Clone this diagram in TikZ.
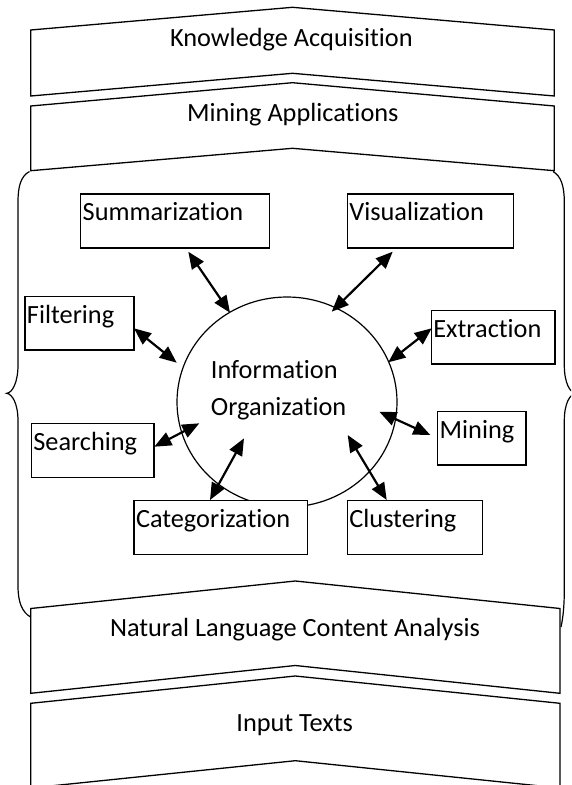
\documentclass[tikz,border=0pt]{standalone}
\usepackage{fontspec}
\setmainfont[Ligatures={NoCommon,NoRequired,NoContextual}]{Carlito}
\usetikzlibrary{arrows.meta,calc,shapes.geometric}

% a task box with its caption set in the upper left corner
\newcommand\taskbox[6]{%
  \node[box, minimum width=#4, minimum height=#5] (#1) at (#2,#3) {};
  \node[lbl] (#1-t) at ($(#1.north west)+(2.5,27.5)$) {#6};
}

\begin{document}
\begin{tikzpicture}[x=1pt,y=-1pt,
  band/.style={draw, fill=white, line width=1.3pt, line join=miter},
  box/.style={draw, fill=white, line width=1.3pt, rectangle, inner sep=0pt, anchor=north west},
  lbl/.style={anchor=base west, inner sep=0pt, font=\fontsize{26.3}{32}\selectfont},
  caption/.style={anchor=base, inner sep=0pt, font=\fontsize{26.3}{32}\selectfont},
  brace/.style={draw, line width=1.2pt},
  link/.style={line width=2.2pt,
    {Triangle[length=17pt,width=14pt]}-{Triangle[length=17pt,width=14pt]}},
]
\useasboundingbox (0,0) rectangle (571,785);
\clip (0,0) rectangle (571,785);

% curly braces around the organization layer
\path[brace] (29.5,171.5) .. controls (21,176) and (18,186) .. (18,202)
  -- (18,365) .. controls (18,383) and (12,393) .. (6.7,393.3)
  .. controls (12,394) and (18,403) .. (18,421)
  -- (18,586) .. controls (18,602) and (22,612) .. (30.5,617);
\path[brace] (553,171.5) .. controls (561,176) and (564.3,186) .. (564.3,202)
  -- (564.3,365) .. controls (564.3,383) and (570,393) .. (576,393.3)
  .. controls (570,394) and (564.3,403) .. (564.3,421)
  -- (564.3,590) .. controls (564.3,606) and (563,618) .. (561,627);

% layered bands
\path[band] (30.7,30) -- (292.5,7.3) -- (554.3,30) -- (554.3,96)
  -- (292.5,73.3) -- (30.7,96) -- cycle;
\node[caption] (know) at (291.4,46) {Knowledge Acquisition};

\path[band] (30.7,106) -- (292.5,82.7) -- (554.3,106) -- (554.3,170.7)
  -- (292.5,148.3) -- (30.7,170.7) -- cycle;
\node[caption] (apps) at (292.8,121.7) {Mining Applications};

\path[band] (30.7,608.5) -- (295.3,581) -- (560,608.5) -- (560,693.3)
  -- (295.3,665.5) -- (30.7,693.3) -- cycle;
\node[caption] (nlca) at (295,636) {Natural Language Content Analysis};

\path[band] (30.7,703.3) -- (295.3,676) -- (560,703.3) -- (560,788)
  -- (295.3,760.7) -- (30.7,788) -- cycle;
\node[caption] (input) at (294.7,731.7) {Input Texts};

% central organization circle
\node[draw, ellipse, line width=1.2pt, inner sep=0pt,
  minimum width=220, minimum height=210] (org) at (287,402) {};
\node[lbl] (org-a) at (210.7,378.3) {Information};
\node[lbl] (org-b) at (210.7,415.7) {Organization};

% surrounding tasks
\taskbox{summ}{80}{193.3}{188.7}{54}{Summarization}
\taskbox{visu}{346.7}{193.3}{166}{54}{Visualization}
\taskbox{filt}{24.3}{296}{109}{53.3}{Filtering}
\taskbox{extr}{430.7}{310}{123.6}{53.3}{Extraction}
\taskbox{srch}{30.7}{422.7}{122.6}{54}{Searching}
\taskbox{mine}{437}{410.7}{88.3}{53.6}{Mining}
\taskbox{catg}{133.3}{500}{173.4}{54}{Categorization}
\taskbox{clus}{346.7}{500}{135}{54}{Clustering}

% connector ends
\coordinate (summ-e) at (188.3,251.7);  \coordinate (org-summ) at (230,312.7);
\coordinate (visu-e) at (392.7,251.7);  \coordinate (org-visu) at (331.7,311.7);
\coordinate (filt-e) at (134,328.3);    \coordinate (org-filt) at (176.7,362.7);
\coordinate (extr-e) at (431.7,328.3);  \coordinate (org-extr) at (388.3,362.3);
\coordinate (srch-e) at (154.3,446.7);  \coordinate (org-srch) at (199.3,423.3);
\coordinate (mine-e) at (430.3,435);    \coordinate (org-mine) at (379.3,411.7);
\coordinate (catg-e) at (210,500);      \coordinate (org-catg) at (244,438.3);
\coordinate (clus-e) at (386.7,500);    \coordinate (org-clus) at (347.7,435);

\draw[link] (summ-e) -- (org-summ);
\draw[link] (visu-e) -- (org-visu);
\draw[link] (filt-e) -- (org-filt);
\draw[link] (extr-e) -- (org-extr);
\draw[link] (srch-e) -- (org-srch);
\draw[link] (mine-e) -- (org-mine);
\draw[link] (catg-e) -- (org-catg);
\draw[link] (clus-e) -- (org-clus);
\end{tikzpicture}
\end{document}
